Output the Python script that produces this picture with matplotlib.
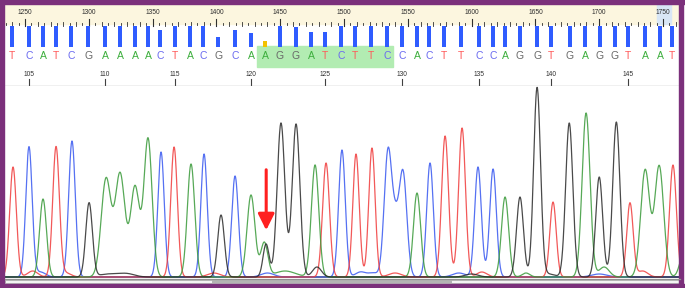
import numpy as np
import matplotlib
matplotlib.use("Agg")
import matplotlib.pyplot as plt
from matplotlib.patches import Rectangle

# base calls (scan position, quality) - first base is number 104
bases = "TCATCGAAAACTACGCAAGGATCTTCCACTTCCAGGTGAGGTAAT"
first_base = 104
base_scan = [1239.8, 1253.1, 1264.1, 1274.3, 1286.0, 1299.4, 1312.7, 1324.5, 1336.2,
             1346.4, 1355.8, 1367.6, 1379.3, 1389.5, 1401.3, 1414.6, 1427.1, 1438.1,
             1449.8, 1462.4, 1474.1, 1485.1, 1497.6, 1508.6, 1521.2, 1533.7, 1545.5,
             1557.2, 1566.6, 1578.4, 1591.7, 1605.8, 1616.8, 1626.2, 1637.9, 1651.3,
             1662.3, 1677.1, 1688.9, 1700.6, 1712.4, 1722.6, 1736.0, 1747.6, 1757.0]
base_qual = [50, 50, 50, 50, 50, 50, 50, 50, 50, 50, 40, 50, 50, 50, 24,
             40, 33, 14, 50, 48, 36, 36, 50, 50, 50, 50, 50, 50, 50, 50,
             50, 50, 50, 50, 50, 50, 50, 50, 50, 50, 50, 50, 50, 50, 50]
highlight_from, highlight_to = 17, 25   # indices of the highlighted bases
arrow_scan = 1439
arrow_top, arrow_tip = 110, 44

# trace peaks per dye: scan position, height, width (in scans)
a_pos = [1264.1, 1313.5, 1324.5, 1336.2, 1346.4, 1380.1, 1427.1, 1437.5, 1453.8, 1477.3,
         1557.2, 1626.2, 1642.6, 1689.7, 1703.8, 1736.0, 1747.0, 1766.0]
a_h = [78, 98, 103, 90, 138, 113, 82, 34, 6, 112, 84, 80, 4, 164, 10, 107, 111, 22]
a_w = [2.7, 3.8, 3.8, 3.5, 3.2, 2.9, 3.1, 2.8, 8.0, 2.9, 2.8, 2.8, 3.0, 3.1, 4.0, 3.5, 3.5, 3.0]

c_pos = [1253.1, 1286.8, 1356.6, 1390.3, 1414.6, 1498.4, 1534.5, 1540.3, 1546.2, 1567.4,
         1605.0, 1616.8, 1262.0, 1440.0, 1513.0, 1523.0, 1590.0, 1700.0]
c_h = [130, 136, 125, 123, 101, 127, 126, 42, 104, 114, 110, 108, 5, 4, 5, 4, 4, 3]
c_w = [2.5, 2.6, 2.5, 2.5, 2.6, 2.6, 3.0, 2.6, 3.0, 2.6, 2.6, 2.6, 4, 5, 4, 4, 5, 6]

g_pos = [1300.2, 1403.6, 1438.9, 1450.6, 1462.4, 1478.8, 1637.9, 1651.3, 1676.5, 1700.0,
         1713.4, 1316.0, 1330.0, 1600.0, 1660.0]
g_h = [74, 62, 33, 154, 153, 10, 80, 189, 154, 100, 155, 3, 3, 3, 3]
g_w = [2.6, 2.6, 2.4, 3.0, 3.0, 3.5, 2.7, 2.7, 2.8, 2.7, 2.8, 8, 6, 5, 5]

t_pos = [1240.6, 1274.3, 1366.8, 1485.9, 1509.4, 1521.9, 1579.2, 1592.5, 1663.8, 1724.1,
         1757.8, 1256.0, 1282.0, 1398.0, 1540.0, 1608.0, 1734.0]
t_h = [110, 130, 130, 114, 123, 129, 141, 149, 75, 74, 112, 6, 4, 4, 4, 5, 6]
t_w = [2.6, 2.6, 2.6, 2.7, 2.5, 2.5, 2.7, 2.7, 2.5, 2.5, 2.7, 4, 4, 5, 5, 4, 4]

dye_color = {"A": "#3a9a3a", "C": "#3858f0", "G": "#2a2a2a", "T": "#f03c3c"}
letter_color = {"A": "#3cae3c", "C": "#6a6af0", "G": "#686868", "T": "#ff5a5a"}

W, H = 685, 288
x0, x1 = 1234.3, 1763.3

fig = plt.figure(figsize=(W / 100, H / 100), dpi=100)
fig.patch.set_facecolor("white")

# --- header: scan ruler, quality bars, base letters, base ruler
ax_top = fig.add_axes([5 / W, 1 - 86 / H, 675 / W, 83 / H])
ax_top.set_xlim(x0, x1)
ax_top.set_ylim(86, 3)
ax_top.axis("off")
ax_top.add_patch(Rectangle((x0, 3), x1 - x0, 21, color="#fcf6df", zorder=0))
ax_top.add_patch(Rectangle((1745, 3), 11, 21, color="#d8e6f6", zorder=0.5))

for s in range(1235, 1765, 5):
    if s % 50 == 0:
        ax_top.plot([s, s], [19, 26], color="#303030", lw=0.8)
        ax_top.text(s, 13, str(s), fontsize=4.8, ha="center", va="center",
                    color="#303030", family="Liberation Sans")
    elif s % 10 == 0:
        ax_top.plot([s, s], [22, 26], color="#303030", lw=0.6)
    else:
        ax_top.plot([s, s], [23, 25], color="#303030", lw=0.6)

hl_left = base_scan[highlight_from] - 6
hl_right = base_scan[highlight_to] + 5
ax_top.add_patch(Rectangle((hl_left, 46), hl_right - hl_left, 21,
                           color="#b2ecb2", zorder=0.5))

for i, b in enumerate(bases):
    q = base_qual[i]
    bar_h = q / 50 * 21
    col = "#f2c200" if q < 20 else "#2f5cff"
    ax_top.bar(base_scan[i], bar_h, bottom=47 - bar_h, width=3.1, color=col, zorder=2)
    ax_top.text(base_scan[i], 56, b, fontsize=7.5, ha="center", va="center",
                color=letter_color[b], family="Liberation Sans", zorder=3)
    n = first_base + i
    if n % 5 == 0:
        ax_top.plot([base_scan[i], base_scan[i]], [79, 86], color="#404040", lw=0.8)
        ax_top.text(base_scan[i], 74, str(n), fontsize=4.8, ha="center", va="center",
                    color="#303030", family="Liberation Sans")
ax_top.plot([x0, x1], [85.5, 85.5], color="#8a8a8a", lw=0.9)

# --- traces
ax = fig.add_axes([5 / W, 10 / H, 675 / W, 192 / H])
ax.set_xlim(x0, x1)
ax.set_ylim(-1, 191)
ax.axis("off")

scan = np.linspace(x0 - 5, x1 + 5, 3000)
peaks = {"C": (c_pos, c_h, c_w), "T": (t_pos, t_h, t_w),
         "A": (a_pos, a_h, a_w), "G": (g_pos, g_h, g_w)}
ax.axhline(0, color="#5a5a5a", lw=1.2, zorder=1)
for dye in ["C", "T", "A", "G"]:
    pos, hgt, wid = peaks[dye]
    sig = np.zeros_like(scan)
    for p, h, w in zip(pos, hgt, wid):
        sig += h * np.exp(-(scan - p) ** 2 / (2 * w ** 2))
    ax.plot(scan, sig, color=dye_color[dye], lw=0.9, alpha=0.85, zorder=2)

ax.annotate("", xy=(arrow_scan, arrow_tip), xytext=(arrow_scan, arrow_top),
            arrowprops=dict(arrowstyle="-|>,head_width=0.35,head_length=0.7",
                            color="#ff2020", lw=2.2, mutation_scale=14), zorder=5)

# --- frame and scrollbar
ov = fig.add_axes([0, 0, 1, 1], zorder=10)
ov.set_xlim(0, W)
ov.set_ylim(H, 0)
ov.axis("off")
ov.patch.set_alpha(0)
ov.plot([5, 680], [278.5, 278.5], color="#909090", lw=0.9)
ov.add_patch(Rectangle((5, 279.5), 675, 3.5, facecolor="#f4f4f4", edgecolor="#a0a0a0", lw=0.5))
ov.add_patch(Rectangle((212, 279.5), 240, 3.5, facecolor="#b4b4b4", edgecolor="none"))
purple = "#7b307b"
ov.add_patch(Rectangle((0, 0), W, 3.5, color=purple))
ov.add_patch(Rectangle((0, 0), 4.5, H, color=purple))
ov.add_patch(Rectangle((679.5, 0), 4, H, color=purple))
ov.add_patch(Rectangle((0, 284), W, 4, color=purple))

fig.savefig("out.png", dpi=100)
